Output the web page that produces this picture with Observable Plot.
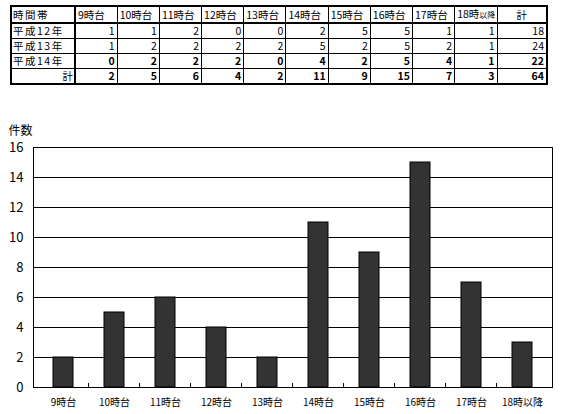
<!DOCTYPE html>
<html><head><meta charset="utf-8">
<script src="https://cdn.jsdelivr.net/npm/d3@7"></script>
<script src="https://cdn.jsdelivr.net/npm/@observablehq/plot@0.6"></script>
<style>
body{margin:0;background:#fff;width:561px;height:414px;overflow:hidden;font-family:"Noto Sans CJK JP",sans-serif;}
#tbl{height:95px;position:relative;}
table{position:absolute;left:10px;top:5px;width:538px;border-collapse:collapse;border:2px solid #000;table-layout:fixed;font-size:10.5px;line-height:14px;}
td{border:1px solid #000;padding:0 2px;height:14px;text-align:right;white-space:nowrap;overflow:hidden;}
td:first-child{border-right:2px solid #000;font-weight:normal !important;padding:0 1px;}
tr.hdr td{border-bottom:2px solid #000;text-align:left;}
tr.hdr td.tot{text-align:center;}
tr.b td{font-weight:bold;}
td.lbl{text-align:left;letter-spacing:1.5px;}
td.sum{text-align:right;}
small{font-size:8px;}
</style></head>
<body>
<div id="tbl"></div>
<div id="chart"></div>
<script>
const categories = ["9時台","10時台","11時台","12時台","13時台","14時台","15時台","16時台","17時台","18時以降"];
const rowLabels = ["平成12年","平成13年","平成14年"];
const h12 = [1,1,2,0,0,2,5,5,1,1];
const h13 = [1,2,2,2,2,5,2,5,2,1];
const h14 = [0,2,2,2,0,4,2,5,4,1];
const totals = [2,5,6,4,2,11,9,15,7,3];
const yTicks = [0,2,4,6,8,10,12,14,16];

// table
const rows = [h12,h13,h14];
let html = '<table><colgroup><col style="width:64px">' + categories.map(()=>'<col>').join('') + '<col style="width:50px"></colgroup>';
html += '<tr class="hdr"><td class="lbl">時間帯</td>' + categories.map(c => c === "18時以降" ? '<td>18時<small>以降</small></td>' : `<td>${c}</td>`).join('') + '<td class="tot">計</td></tr>';
rows.forEach((r,i) => {
  html += `<tr${i===2?' class="b"':''}><td class="lbl">${rowLabels[i]}</td>` + r.map(v=>`<td>${v}</td>`).join('') + `<td>${d3.sum(r)}</td></tr>`;
});
html += '<tr class="b"><td class="sum">計</td>' + totals.map(v=>`<td>${v}</td>`).join('') + `<td>${d3.sum(totals)}</td></tr></table>`;
document.getElementById('tbl').innerHTML = html;

const data = categories.map((c,i)=>({cat:c, n:totals[i]}));
const W = 561, mL = 33, mR = 9;
const step = (W - mL - mR) / categories.length;

const chart = Plot.plot({
  width: W, height: 319,
  marginTop: 52, marginBottom: 27, marginLeft: mL, marginRight: mR,
  style: {fontFamily: '"Noto Sans CJK JP", sans-serif', background: "#fff", color: "#000"},
  x: {domain: categories, paddingInner: 0.6, paddingOuter: 0.3, label: null},
  y: {domain: [0,16], ticks: yTicks, label: null},
  marks: [
    Plot.ruleY(yTicks.filter(t => t > 0 && t < 16), {stroke: "#000", strokeWidth: 1}),
    Plot.barY(data, {x: "cat", y: "n", fill: "#333333", stroke: "#000", strokeWidth: 1}),
    Plot.frame({stroke: "#000", strokeWidth: 1}),
    Plot.ruleX(categories.slice(1), {x: d => d, y1: 0, y2: 0, dx: -step/2, insetTop: -4, stroke: "#000"}),
    Plot.axisY({ticks: yTicks, tickSize: 0, tickPadding: 10, fontSize: 13, label: null}),
    Plot.axisX({tickSize: 0, tickPadding: 11, fontSize: 10, label: null}),
    Plot.text(["件数"], {frameAnchor: "top-left", dx: -25, dy: -21, textAnchor: "start", fontSize: 12, fill: "#000"})
  ]
});
document.getElementById('chart').appendChild(chart);
</script>
</body></html>
